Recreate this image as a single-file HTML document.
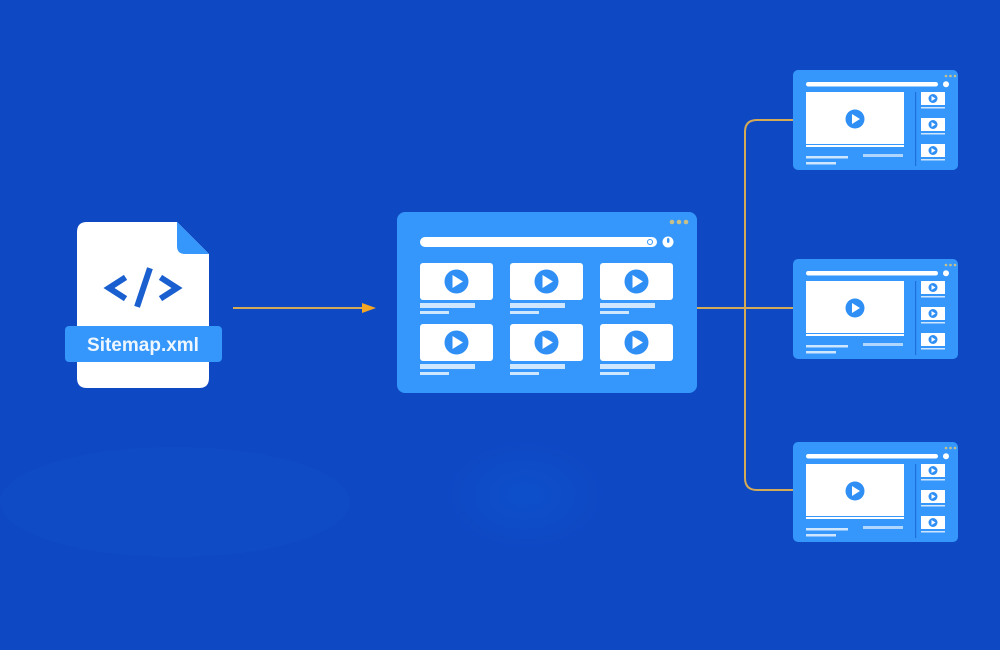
<!DOCTYPE html>
<html><head><meta charset="utf-8"><style>
html,body{margin:0;padding:0;width:1000px;height:650px;overflow:hidden;background:#0f48c3;}
svg{display:block}
</style></head><body>
<svg width="1000" height="650" viewBox="0 0 1000 650" xmlns="http://www.w3.org/2000/svg">
<defs>
<radialGradient id="g1" cx="0.5" cy="0.5" r="0.5"><stop offset="0" stop-color="#0d4fcb"/><stop offset="1" stop-color="#0f48c3"/></radialGradient>
<g id="sb">
  <rect x="0" y="0" width="165" height="100" rx="5" fill="#3597fb"/>
  <circle cx="153" cy="6" r="1.3" fill="#c7c08a"/><circle cx="157.5" cy="6" r="1.3" fill="#c7c08a"/><circle cx="162" cy="6" r="1.3" fill="#c7c08a"/>
  <rect x="13" y="12" width="132" height="4.5" rx="2.2" fill="#fff"/>
  <circle cx="153" cy="14.2" r="3" fill="#fff"/>
  <rect x="13" y="22" width="98" height="55" fill="#fff"/>
  <rect x="13" y="74" width="98" height="1" fill="#3597fb"/>
  <circle cx="62" cy="49" r="9.5" fill="#2f8ff5"/>
  <path d="M59 44 L67 49 L59 54 Z" fill="#fff"/>
  <rect x="13" y="86" width="42" height="2.5" fill="#cfe6ff"/>
  <rect x="13" y="92" width="30" height="2.5" fill="#cfe6ff"/>
  <rect x="70" y="84" width="40" height="3" fill="#cfe6ff" opacity="0.8"/>
  <rect x="122" y="22" width="1.2" height="74" fill="#1f6fd8"/>
  <g fill="#fff"><rect x="128" y="22" width="24" height="13"/><rect x="128" y="48" width="24" height="13"/><rect x="128" y="74" width="24" height="13"/></g>
  <g fill="#2f8ff5"><circle cx="140" cy="28.5" r="4.5"/><circle cx="140" cy="54.5" r="4.5"/><circle cx="140" cy="80.5" r="4.5"/></g>
  <g fill="#fff"><path d="M138.5 26 L142.5 28.5 L138.5 31Z"/><path d="M138.5 52 L142.5 54.5 L138.5 57Z"/><path d="M138.5 78 L142.5 80.5 L138.5 83Z"/></g>
  <g fill="#cfe6ff"><rect x="128" y="37" width="24" height="1.5"/><rect x="128" y="63" width="24" height="1.5"/><rect x="128" y="89" width="24" height="1.5"/></g>
</g>
<g id="th">
  <rect x="0" y="0" width="73" height="37" rx="3" fill="#fff"/>
  <circle cx="36.5" cy="18.5" r="12" fill="#2f8ff5"/>
  <path d="M32.5 12 L43 18.5 L32.5 25 Z" fill="#fff"/>
  <rect x="0" y="40" width="55" height="5" fill="#cfe6ff"/>
  <rect x="0" y="48" width="29" height="3" fill="#cfe6ff"/>
</g>
</defs>
<ellipse cx="175" cy="502" rx="175" ry="55" fill="#114fc8" opacity="0.6"/>
<ellipse cx="525" cy="495" rx="80" ry="55" fill="url(#g1)"/>
<g stroke="#d4aa55" stroke-width="2" fill="none">
  <line x1="233" y1="308" x2="368" y2="308"/>
  <line x1="697" y1="308" x2="793" y2="308"/>
  <path d="M793 120 H757 Q745 120 745 132 V478 Q745 490 757 490 H793"/>
</g>
<path d="M376 308 L362 303 L362 313 Z" fill="#f5a623"/>
<path d="M87 222 H177 L209 254 V378 Q209 388 199 388 H87 Q77 388 77 378 V232 Q77 222 87 222Z" fill="#fff"/>
<path d="M177 222 L209 254 H185 Q177 254 177 246Z" fill="#3597fb"/>
<g stroke="#1a5fd0" stroke-width="6" fill="none" stroke-linecap="square">
  <path d="M123 279 L109 288 L123 297"/>
  <path d="M163 279 L177 288 L163 297"/>
  <path d="M149 271 L138 304"/>
</g>
<rect x="65" y="326" width="157" height="36" rx="4" fill="#3597fb"/>
<text x="143" y="351" text-anchor="middle" font-family="Liberation Sans, sans-serif" font-weight="bold" font-size="19" fill="#eef6ff">Sitemap.xml</text>
<rect x="397" y="212" width="300" height="181" rx="8" fill="#3597fb"/>
<circle cx="672" cy="222" r="2.3" fill="#c7c08a"/><circle cx="679" cy="222" r="2.3" fill="#c7c08a"/><circle cx="686" cy="222" r="2.3" fill="#c7c08a"/>
<rect x="420" y="237" width="237" height="10" rx="5" fill="#fff"/>
<circle cx="650" cy="242" r="2.5" fill="none" stroke="#3597fb" stroke-width="1"/>
<circle cx="668" cy="242" r="5.5" fill="#fff"/>
<rect x="667" y="238" width="2.4" height="5" rx="1.2" fill="#3597fb"/>
<use href="#th" x="420" y="263"/><use href="#th" x="510" y="263"/><use href="#th" x="600" y="263"/>
<use href="#th" x="420" y="324"/><use href="#th" x="510" y="324"/><use href="#th" x="600" y="324"/>
<use href="#sb" x="793" y="70"/>
<use href="#sb" x="793" y="259"/>
<use href="#sb" x="793" y="442"/>
</svg>
</body></html>
